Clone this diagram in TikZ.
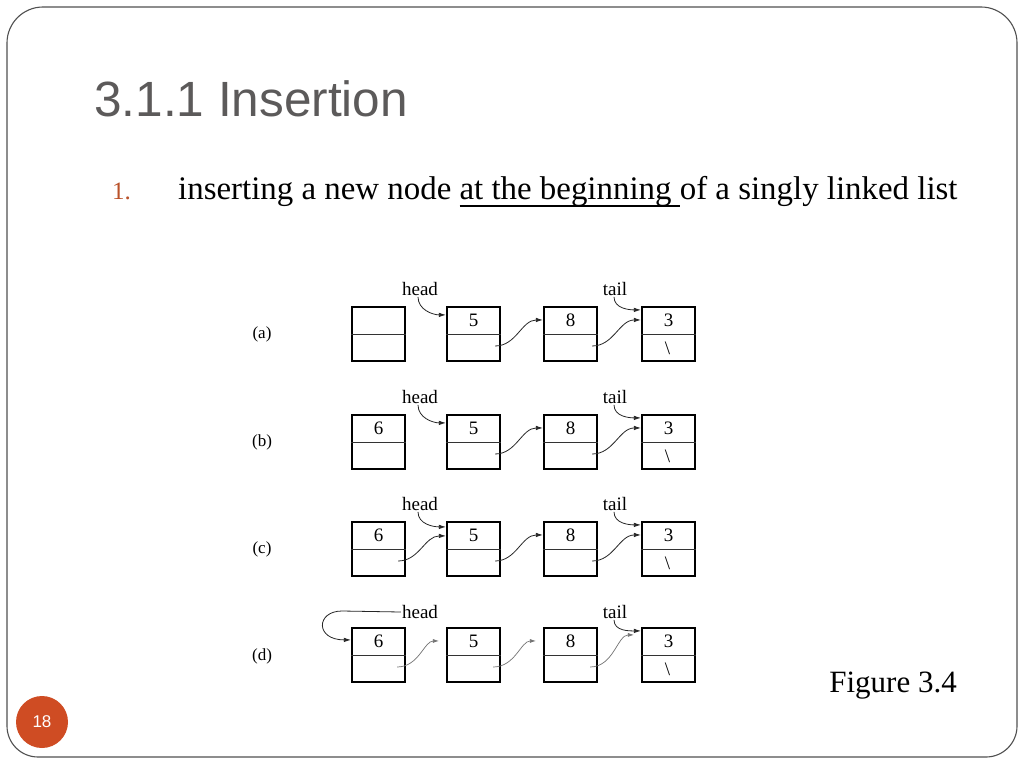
\documentclass[tikz,border=0pt]{standalone}
\usepackage{fontspec}
\setmainfont{Liberation Serif}
\newfontfamily\titlefont{Liberation Sans}
\usetikzlibrary{calc,arrows.meta}
\definecolor{titlegray}{RGB}{92,90,90}
\definecolor{rust}{RGB}{186,82,42}
\definecolor{badge}{RGB}{207,76,35}
\definecolor{framegray}{RGB}{80,80,80}
\newcommand\ulpart[1]{\sbox0{#1}\rlap{\rule[-7.5pt]{\wd0}{1.3pt}}\usebox0}
\tikzset{
  box/.style={draw, line width=2.2pt, minimum width=53pt, minimum height=54pt, inner sep=0pt},
  divider/.style={line width=1pt, black!80},
  val/.style={font=\fontsize{19}{19}\selectfont, inner sep=0pt},
  lbl/.style={font=\fontsize{19}{19}\selectfont, inner sep=1pt},
  rowlbl/.style={font=\fontsize{17}{17}\selectfont, inner sep=0pt},
  ptr/.style={line width=0.8pt, black!85, -{Latex[length=7pt,width=4.5pt]}},
  ptrd/.style={line width=0.7pt, black!55, -{Latex[length=6pt,width=4pt]}, shorten >=7pt},
  frame/.style={line width=1.1pt, framegray}
}
\begin{document}
\begin{tikzpicture}[x=1pt,y=-1pt]
\useasboundingbox (0,0) rectangle (1024,768);
\fill[white] (0,0) rectangle (1024,768);
% slide frame
\draw[frame] (7,400) [rounded corners=36pt] |- (512,7) -| (1017,400)
  [rounded corners=31pt] |- (512,757) -| (7,400) -- cycle;
% title and text
\node[anchor=base west, inner sep=0pt, text=titlegray, font=\titlefont\fontsize{49.5}{49.5}\selectfont] (title) at (94,116) {3.1.1 Insertion};
\node[anchor=base west, inner sep=0pt, text=rust, font=\fontsize{25}{25}\selectfont] (num) at (112,199) {1.};
\node[anchor=base west, inner sep=0pt, font=\fontsize{32.9}{32.9}\selectfont] (body) at (178,199)
  {inserting a new node \ulpart{at the beginning }of a singly linked list};
\node[anchor=base east, inner sep=0pt, font=\fontsize{31}{31}\selectfont] (fig) at (957,692) {Figure 3.4};
% page badge
\node[circle, fill=badge, minimum size=52pt, inner sep=0pt, text=white, font=\titlefont\fontsize{17}{17}\selectfont] (page) at (42,722) {18};
% rows of boxes
\foreach \r/\y in {a/334,b/442,c/549,d/655}{
  \foreach \i/\x in {0/378.5,1/473.5,2/570.5,3/668.5}{
    \node[box] (\r\i) at (\x,\y) {};
    \draw[divider] (\r\i.west) -- (\r\i.east);
  }
  \node[val] (\r1v) at ($(\r1.north)!0.25!(\r1.south)$) {5};
  \node[val] (\r2v) at ($(\r2.north)!0.25!(\r2.south)$) {8};
  \node[val] (\r3v) at ($(\r3.north)!0.25!(\r3.south)$) {3};
  \node[val] (\r3n) at ($(\r3.north)!0.75!(\r3.south)+(-1,0)$) {\textbackslash};
}
\foreach \r in {b,c,d}{
  \node[val] (\r0v) at ($(\r0.north)!0.25!(\r0.south)$) {6};
}
% row labels
\node[rowlbl] (la) at (262,334) {(a)};
\node[rowlbl] (lb) at (262,442) {(b)};
\node[rowlbl] (lc) at (262,549) {(c)};
\node[rowlbl] (ld) at (262,656) {(d)};
% head / tail labels
\node[lbl] (ha) at (420,289) {head};
\node[lbl] (hb) at (420,397) {head};
\node[lbl] (hc) at (420,504) {head};
\node[lbl] (hd) at (420,612) {head};
\node[lbl] (ta) at (615,289) {tail};
\node[lbl] (tb) at (615,397) {tail};
\node[lbl] (tc) at (615,504) {tail};
\node[lbl] (td) at (615,612) {tail};
% pointers rows a, b
\foreach \r in {a,b}{
  \draw[ptr] ($(\r1.east)+(-6,12)$) to[out=0,in=180] ($(\r2.north west)!0.25!(\r2.south west)$);
  \draw[ptr] ($(\r2.east)+(-6,12)$) to[out=0,in=180] ($(\r3.north west)!0.25!(\r3.south west)$);
  \draw[ptr] ($(h\r.south)+(-2,0)$) to[out=-90,in=180] ($(\r1.north west)+(0,9)$);
  \draw[ptr] ($(t\r.south)+(-1,0)$) to[out=-90,in=180] ($(\r3.north west)+(0,4)$);
}
% row c
\draw[ptr] ($(c0.east)+(-8,12)$) to[out=0,in=180] ($(c1.north west)+(0,15)$);
\draw[ptr] ($(c1.east)+(-6,12)$) to[out=0,in=180] ($(c2.north west)!0.25!(c2.south west)$);
\draw[ptr] ($(c2.east)+(-6,12)$) to[out=0,in=180] ($(c3.north west)!0.25!(c3.south west)$);
\draw[ptr] ($(hc.south)+(-2,0)$) to[out=-90,in=180] ($(c1.north west)+(0,6)$);
\draw[ptr] ($(tc.south)+(-1,0)$) to[out=-90,in=180] ($(c3.north west)+(0,4)$);
% row d
\draw[ptrd] ($(d0.east)+(-9,12)$) to[out=0,in=180] ($(d1.north west)!0.25!(d1.south west)$);
\draw[ptrd] ($(d1.east)+(-8,12)$) to[out=0,in=180] ($(d2.north west)!0.25!(d2.south west)$);
\draw[ptrd] ($(d2.east)+(-8,12)$) to[out=0,in=180] ($(d3.north west)+(0,8)$);
\coordinate (hdbend) at (342,611);
\draw[ptr] (hd.west) -- (hdbend) .. controls +(-26,0) and +(-36,0) .. ($(d0.north west)+(0,13)$);
\draw[ptr] ($(td.south)+(-1,0)$) to[out=-90,in=180] ($(d3.north west)+(0,4)$);
\end{tikzpicture}
\end{document}
